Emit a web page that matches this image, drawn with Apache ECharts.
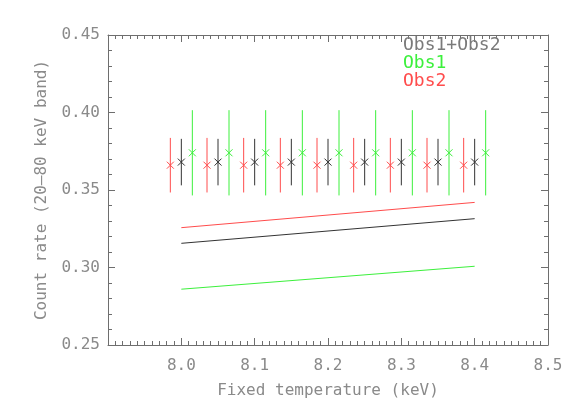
<!DOCTYPE html>
<html>
<head>
<meta charset="utf-8">
<script src="https://cdn.jsdelivr.net/npm/echarts@6/dist/echarts.min.js"></script>
<style>
  html, body { margin: 0; padding: 0; background: #fff; }
  #chart { width: 581px; height: 415px; }
</style>
</head>
<body>
<div id="chart"></div>
<script>
// Count rate vs fixed temperature, three observation sets with error bars
// plus a linear model line for each set.

const tempBoth = [8.00, 8.05, 8.10, 8.15, 8.20, 8.25, 8.30, 8.35, 8.40];
const tempObs1 = [8.015, 8.065, 8.115, 8.165, 8.215, 8.265, 8.315, 8.365, 8.415];
const tempObs2 = [7.985, 8.035, 8.085, 8.135, 8.185, 8.235, 8.285, 8.335, 8.385];

const rateBoth = [0.368, 0.368, 0.368, 0.368, 0.368, 0.368, 0.368, 0.368, 0.368];
const errBoth  = [0.015, 0.015, 0.015, 0.015, 0.015, 0.015, 0.015, 0.015, 0.015];
const rateObs1 = [0.374, 0.374, 0.374, 0.374, 0.374, 0.374, 0.374, 0.374, 0.374];
const errObs1  = [0.0275, 0.0275, 0.0275, 0.0275, 0.0275, 0.0275, 0.0275, 0.0275, 0.0275];
const rateObs2 = [0.366, 0.366, 0.366, 0.366, 0.366, 0.366, 0.366, 0.366, 0.366];
const errObs2  = [0.0176, 0.0176, 0.0176, 0.0176, 0.0176, 0.0176, 0.0176, 0.0176, 0.0176];

// model lines, endpoints at 8.0 and 8.4 keV
const modelTemp = [8.0, 8.4];
const modelBoth = [0.3156, 0.3315];
const modelObs1 = [0.286, 0.3008];
const modelObs2 = [0.3257, 0.342];

const COLORS = {
  both: '#333333',
  obs1: '#3cf03c',
  obs2: '#ff4c4c',
  axis: '#6e6e6e',
  text: '#8a8a8a',
};
const FONT = 'DejaVu Sans Mono';

const chart = echarts.init(document.getElementById('chart'), null, { renderer: 'canvas' });

function errData(xs, ys, es) {
  return xs.map((x, i) => [x, ys[i], ys[i] - es[i], ys[i] + es[i]]);
}

function renderErr(color) {
  return function (params, api) {
    const c = api.coord([api.value(0), api.value(1)]);
    const lo = api.coord([api.value(0), api.value(2)]);
    const hi = api.coord([api.value(0), api.value(3)]);
    const s = 3.5;
    const st = { stroke: color, lineWidth: 1 };
    return {
      type: 'group',
      children: [
        { type: 'line', shape: { x1: c[0], y1: lo[1], x2: c[0], y2: hi[1] }, style: st },
        { type: 'line', shape: { x1: c[0] - s, y1: c[1] - s, x2: c[0] + s, y2: c[1] + s }, style: st },
        { type: 'line', shape: { x1: c[0] - s, y1: c[1] + s, x2: c[0] + s, y2: c[1] - s }, style: st },
      ],
    };
  };
}

function lineData(ys) {
  return modelTemp.map((t, i) => [t, ys[i]]);
}

const axisCommon = {
  axisLine: { show: true, lineStyle: { color: COLORS.axis, width: 1 } },
  axisTick: { show: true, inside: true, length: 7, lineStyle: { color: COLORS.axis } },
  splitLine: { show: false },
};
const minorX = { show: true, length: 4, splitNumber: 10, lineStyle: { color: COLORS.axis } };
const minorY = { show: true, length: 4, splitNumber: 5, lineStyle: { color: COLORS.axis } };

const option = {
  backgroundColor: '#fff',
  animation: false,
  grid: { left: 108, right: 33, top: 35, bottom: 70, containLabel: false },
  legend: {
    orient: 'vertical',
    left: 393,
    top: 31,
    icon: 'none',
    itemWidth: 0,
    itemHeight: 10,
    itemGap: 0,
    selectedMode: false,
    textStyle: { fontFamily: FONT, fontSize: 18, lineHeight: 15.5 },
    data: [
      { name: 'Obs1+Obs2', textStyle: { color: '#7a7a7a' } },
      { name: 'Obs1', textStyle: { color: COLORS.obs1 } },
      { name: 'Obs2', textStyle: { color: COLORS.obs2 } },
    ],
  },
  xAxis: [
    Object.assign({
      type: 'value',
      min: 7.9,
      max: 8.5,
      interval: 0.1,
      name: 'Fixed temperature (keV)',
      nameLocation: 'middle',
      nameGap: 38,
      nameTextStyle: { color: COLORS.text, fontFamily: FONT, fontSize: 16 },
      axisLabel: {
        color: COLORS.text, fontFamily: FONT, fontSize: 16, margin: 13,
        formatter: (v) => (v < 7.95 ? '' : v.toFixed(1)),
      },
      minorTick: minorX,
    }, axisCommon),
    Object.assign({
      type: 'value', position: 'top', min: 7.9, max: 8.5, interval: 0.1,
      axisLabel: { show: false },
      minorTick: minorX,
    }, axisCommon),
  ],
  yAxis: [
    Object.assign({
      type: 'value',
      min: 0.25,
      max: 0.45,
      interval: 0.05,
      name: 'Count rate (20\u201380 keV band)',
      nameLocation: 'middle',
      nameGap: 58,
      nameTextStyle: { color: COLORS.text, fontFamily: FONT, fontSize: 16 },
      axisLabel: {
        color: COLORS.text, fontFamily: FONT, fontSize: 16, margin: 8,
        formatter: (v) => v.toFixed(2),
      },
      minorTick: minorY,
    }, axisCommon),
    Object.assign({
      type: 'value', position: 'right', min: 0.25, max: 0.45, interval: 0.05,
      axisLabel: { show: false },
      minorTick: minorY,
    }, axisCommon),
  ],
  series: [
    {
      name: 'Obs1+Obs2', type: 'line', data: lineData(modelBoth), showSymbol: false,
      lineStyle: { color: COLORS.both, width: 1 }, itemStyle: { color: COLORS.both },
    },
    {
      name: 'Obs1', type: 'line', data: lineData(modelObs1), showSymbol: false,
      lineStyle: { color: COLORS.obs1, width: 1 }, itemStyle: { color: COLORS.obs1 },
    },
    {
      name: 'Obs2', type: 'line', data: lineData(modelObs2), showSymbol: false,
      lineStyle: { color: COLORS.obs2, width: 1 }, itemStyle: { color: COLORS.obs2 },
    },
    {
      name: 'Obs2', type: 'custom', renderItem: renderErr(COLORS.obs2),
      data: errData(tempObs2, rateObs2, errObs2), encode: { x: 0, y: [1, 2, 3] },
      itemStyle: { color: COLORS.obs2 },
    },
    {
      name: 'Obs1+Obs2', type: 'custom', renderItem: renderErr(COLORS.both),
      data: errData(tempBoth, rateBoth, errBoth), encode: { x: 0, y: [1, 2, 3] },
      itemStyle: { color: COLORS.both },
    },
    {
      name: 'Obs1', type: 'custom', renderItem: renderErr(COLORS.obs1),
      data: errData(tempObs1, rateObs1, errObs1), encode: { x: 0, y: [1, 2, 3] },
      itemStyle: { color: COLORS.obs1 },
    },
  ],
};

chart.setOption(option);
</script>
</body>
</html>
